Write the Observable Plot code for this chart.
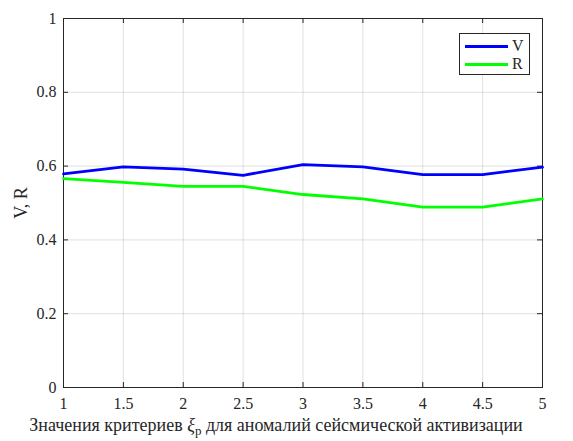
<!DOCTYPE html>
<html><head><meta charset="utf-8">
<script src="https://cdn.jsdelivr.net/npm/d3@7"></script>
<script src="https://cdn.jsdelivr.net/npm/@observablehq/plot@0.6"></script>
<style>
body{margin:0;background:#fff;}
#wrap{position:relative;width:573px;height:441px;}
#legend{position:absolute;left:459px;top:33px;width:71px;height:42px;border:1px solid #262626;background:#fff;box-sizing:border-box;font-family:"Liberation Serif",serif;font-size:16px;color:#262626;}
.li{position:absolute;left:5px;display:flex;align-items:center;}
.li span.sw{display:inline-block;width:43px;height:3px;margin-right:4px;}
</style>
</head><body><div id="wrap"></div>
<script>
const xValues = [1, 1.5, 2, 2.5, 3, 3.5, 4, 4.5, 5];
const vValues = [0.579, 0.598, 0.592, 0.575, 0.604, 0.598, 0.577, 0.577, 0.597];
const rValues = [0.566, 0.556, 0.545, 0.545, 0.523, 0.511, 0.489, 0.489, 0.511];
const xTicks = [1, 1.5, 2, 2.5, 3, 3.5, 4, 4.5, 5];
const yTicks = [0, 0.2, 0.4, 0.6, 0.8, 1];
const seriesNames = ["V", "R"];
const seriesColors = ["#0000ff", "#00ff00"];
const xLabel = ["Значения критериев ", "ξ", "p", " для аномалий сейсмической активизации"];
const yLabel = "V, R";

const data = xValues.flatMap((x, i) => [
  {x, y: vValues[i], s: seriesNames[0]},
  {x, y: rValues[i], s: seriesNames[1]}
]);

const W = 573, H = 441, mL = 63, mR = 31, mT = 18, mB = 54;
const ph = H - mT - mB, pw = W - mL - mR;
const axisColor = "#262626";

const chart = Plot.plot({
  width: W, height: H,
  marginLeft: mL, marginRight: mR, marginTop: mT, marginBottom: mB,
  x: {domain: [1, 5]},
  y: {domain: [0, 1]},
  color: {domain: seriesNames, range: seriesColors},
  style: {fontFamily: "Liberation Serif", fontSize: "16px"},
  marks: [
    Plot.gridX(xTicks, {stroke: "#000", strokeOpacity: 0.12}),
    Plot.gridY(yTicks, {stroke: "#000", strokeOpacity: 0.12}),
    Plot.axisX(xTicks, {tickSize: 0, tickPadding: 10, tickFormat: d => String(d), label: xLabel.join(""), labelAnchor: "center", labelOffset: 43, labelArrow: "none", fill: axisColor}),
    Plot.axisY(yTicks, {tickSize: 0, tickPadding: 7, tickFormat: d => String(d), label: yLabel, labelAnchor: "center", labelOffset: 49, labelArrow: "none", fill: axisColor}),
    Plot.tickX(xTicks, {x: d => d, insetTop: ph - 5, stroke: axisColor}),
    Plot.tickX(xTicks, {x: d => d, insetBottom: ph - 5, stroke: axisColor}),
    Plot.tickY(yTicks, {y: d => d, insetRight: pw - 5, stroke: axisColor}),
    Plot.tickY(yTicks, {y: d => d, insetLeft: pw - 5, stroke: axisColor}),
    Plot.frame({stroke: axisColor}),
    Plot.line(data, {x: "x", y: "y", stroke: "s", z: "s", strokeWidth: 2.8})
  ]
});

// subscript in x label, MATLAB-like placement; larger y label
d3.select(chart).selectAll("text").each(function() {
  const t = d3.select(this);
  if (this.textContent === xLabel.join("")) {
    t.text("");
    t.attr("font-size", "18px");
    t.attr("transform", (t.attr("transform") || "") + " translate(-27,0)");
    t.append("tspan").text(xLabel[0]);
    t.append("tspan").attr("font-style", "italic").text(xLabel[1]);
    t.append("tspan").attr("font-size", "13px").attr("dy", "4").text(xLabel[2]);
    t.append("tspan").attr("dy", "-4").text(xLabel[3]);
  } else if (this.textContent === yLabel) {
    t.attr("font-size", "18px");
  }
});

const wrap = document.getElementById("wrap");
wrap.appendChild(chart);
const leg = document.createElement("div");
leg.id = "legend";
seriesNames.forEach((n, i) => {
  const row = document.createElement("div");
  row.className = "li";
  row.style.top = (i === 0 ? 3 : 21) + "px";
  row.innerHTML = `<span class="sw" style="background:${seriesColors[i]}"></span><span>${n}</span>`;
  leg.appendChild(row);
});
wrap.appendChild(leg);
</script>
</body></html>
